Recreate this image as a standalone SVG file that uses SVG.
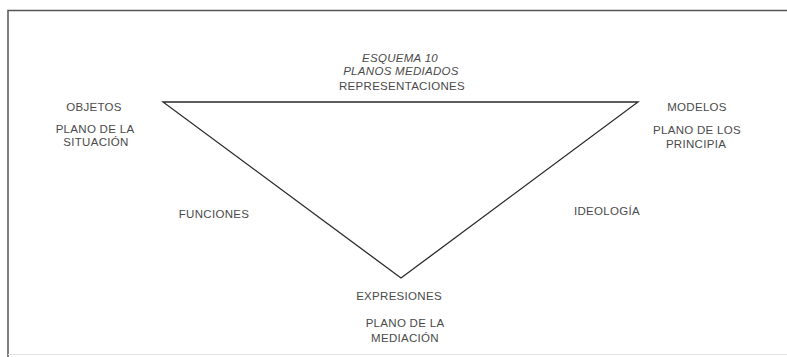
<svg xmlns="http://www.w3.org/2000/svg" width="787" height="357" viewBox="0 0 787 357">
<style>
.t{font-family:"Liberation Sans",Arial,sans-serif;font-size:11.5px;fill:#4a4a4a;text-anchor:middle;letter-spacing:0.3px}
.i{font-style:italic}
.ln{stroke:#2a2a2a;stroke-width:1.3;fill:none}
.bd{stroke:#555;stroke-width:1.5;fill:none}
</style>
<rect width="787" height="357" fill="#ffffff"/>
<g id="frame">
<path class="bd" d="M8,357 V10.5 H787"/>
<path d="M8,354.5 H787" stroke="#e2e2e2" stroke-width="1" fill="none"/>
</g>
<g id="title">
<text class="t i" x="400" y="62">ESQUEMA 10</text>
<text class="t i" x="401" y="75">PLANOS MEDIADOS</text>
</g>
<g id="connectors">
<path class="ln" d="M163,102 H638 L401,278 Z"/>
</g>
<g id="representaciones"><text class="t" x="402" y="90">REPRESENTACIONES</text></g>
<g id="objetos">
<text class="t" x="94" y="111">OBJETOS</text>
<text class="t" x="95" y="133">PLANO DE LA</text>
<text class="t" x="96" y="146">SITUACIÓN</text>
</g>
<g id="modelos">
<text class="t" x="697" y="111">MODELOS</text>
<text class="t" x="697" y="134">PLANO DE LOS</text>
<text class="t" x="696" y="148">PRINCIPIA</text>
</g>
<g id="funciones"><text class="t" x="214" y="218">FUNCIONES</text></g>
<g id="ideologia"><text class="t" x="607" y="215">IDEOLOGÍA</text></g>
<g id="expresiones">
<text class="t" x="399" y="300">EXPRESIONES</text>
<text class="t" x="405" y="327">PLANO DE LA</text>
<text class="t" x="405" y="342">MEDIACIÓN</text>
</g>
</svg>
